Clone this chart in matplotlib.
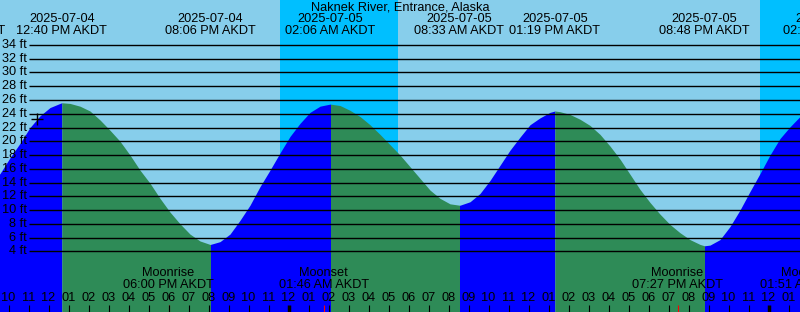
import matplotlib.pyplot as plt
from matplotlib.transforms import blended_transform_factory
from datetime import datetime

station = "Naknek River, Entrance, Alaska"
tz = "AKDT"

# tide height, one value every 30 min from the left edge
t_start = "2025-07-04 09:34:30"
step_min = 30
height_ft = [15.3, 17.6, 19.7, 22.0, 23.7, 24.9, 25.5, 25.5, 25.1, 24.4,
             23.1, 21.6, 20.0, 18.0, 15.8, 13.9, 11.7, 9.7, 8.0, 6.5,
             5.5, 5.0, 5.4, 6.5, 8.5, 10.7, 13.4, 15.8, 18.3, 20.7,
             22.6, 24.2, 25.1, 25.4, 25.2, 24.5, 23.6, 22.4, 21.0, 19.5,
             18.0, 16.3, 14.6, 12.9, 11.7, 10.9, 10.7, 11.2, 12.4, 14.3,
             16.5, 18.7, 20.6, 22.4, 23.4, 24.2, 24.3, 23.9, 23.2, 22.3,
             21.0, 19.3, 17.4, 15.2, 13.0, 11.1, 9.4, 7.9, 6.7, 5.7,
             5.0, 4.9, 5.7, 7.6, 10.0, 12.7, 15.3, 18.0, 20.4, 22.1, 23.6]

extreme_time = ["2025-07-04 07:35", "2025-07-04 12:40", "2025-07-04 20:06",
                "2025-07-05 02:06", "2025-07-05 08:33", "2025-07-05 13:19",
                "2025-07-05 20:48", "2025-07-06 02:58"]
extreme_ft = [10.9, 25.6, 5.0, 25.4, 10.7, 24.4, 4.8, 26.5]
extreme_kind = ["low", "high", "low", "high", "low", "high", "low", "high"]

moon_time = ["2025-07-04 18:00", "2025-07-05 01:46", "2025-07-05 19:27", "2025-07-06 01:51"]
moon_event = ["Moonrise", "Moonset", "Moonrise", "Moonset"]

sunset = ["2025-07-04 23:35", "2025-07-05 23:35"]
sunrise = ["2025-07-05 05:28", "2025-07-06 05:28"]

now_time = "2025-07-04 11:26"
now_ft = 23.3

levels_ft = list(range(4, 36, 2))

day0 = datetime(2025, 7, 4)


def hours(s):
    fmt = "%Y-%m-%d %H:%M:%S" if s.count(":") == 2 else "%Y-%m-%d %H:%M"
    return (datetime.strptime(s, fmt) - day0).total_seconds() / 3600


def clock(s):
    return datetime.strptime(s, "%Y-%m-%d %H:%M").strftime("%I:%M %p") + " " + tz


h0 = hours(t_start)
sample_h = [h0 + i * step_min / 60 for i in range(len(height_ft))]
ext_h = [hours(s) for s in extreme_time]

pts = sorted(list(zip(sample_h, height_ft)) + list(zip(ext_h, extreme_ft)))
th = [p[0] for p in pts]
hh = [p[1] for p in pts]

W, H = 800, 312
fig = plt.figure(figsize=(W / 100, H / 100), dpi=100)
ax = fig.add_axes([0, 0, 1, 1])
ax.axis("off")
# 20 px per hour, 6.877 px per foot
ax.set_xlim(h0, h0 + W / 20)
ax.set_ylim((278.8 - H) / 6.877, 278.8 / 6.877)
plt.rcParams["font.family"] = ["Liberation Sans", "DejaVu Sans"]
fs = 9.2

bx = blended_transform_factory(ax.transData, ax.transAxes)   # x data, y axes
by = blended_transform_factory(ax.transAxes, ax.transData)   # x axes, y data


def fy(ypx):
    return 1 - ypx / H


ax.set_facecolor("#87CEEB")
ax.axis("on")
for sp in ax.spines.values():
    sp.set_visible(False)
ax.set_xticks([])
ax.set_yticks([])
for s0, s1 in zip(sunset, sunrise):
    ax.axvspan(hours(s0), hours(s1), color="#00BFFF", lw=0, zorder=0)

# rising = blue, falling = green
for i in range(len(ext_h) - 1):
    a, b = ext_h[i], ext_h[i + 1]
    seg = [(t, v) for t, v in zip(th, hh) if a <= t <= b]
    col = "#0000FF" if extreme_kind[i + 1] == "high" else "#2E8B57"
    ax.fill_between([p[0] for p in seg], [p[1] for p in seg], -10,
                    color=col, lw=0, zorder=1)

x_line = h0 + 29 / 20
ax.hlines(levels_ft, x_line, h0 + W / 20, color="black", lw=1.0, zorder=2)
for lv in levels_ft:
    ax.text(27 / W, lv, f"{lv} ft", transform=by, ha="right", va="center",
            fontsize=fs, zorder=3)

ax.plot(hours(now_time), now_ft, marker="+", ms=9, mew=1, color="black", zorder=3)

ax.text(0.5, fy(7.5), station, transform=ax.transAxes, ha="center",
        va="center", fontsize=fs)
for s, t in zip(extreme_time, ext_h):
    ax.text(t, fy(19), s[:10], transform=bx, ha="center", va="center", fontsize=fs)
    ax.text(t, fy(31.5), clock(s), transform=bx, ha="center", va="center", fontsize=fs)

for s, ev in zip(moon_time, moon_event):
    t = hours(s)
    ax.text(t, fy(273.5), ev, transform=bx, ha="center", va="center", fontsize=fs)
    ax.text(t, fy(285), clock(s), transform=bx, ha="center", va="center", fontsize=fs)
    ax.vlines(t, fy(312), fy(305), transform=bx, color="red", lw=0.8, zorder=3)

for hr in range(int(h0) + 1, int(h0 + W / 20) + 1):
    lw = 2.5 if hr % 24 == 0 else 0.8
    ax.vlines(hr, fy(312), fy(305), transform=bx, color="black", lw=lw, zorder=3)
    ax.text(hr, fy(298), f"{(hr % 12) or 12:02d}", transform=bx, ha="center",
            va="center", fontsize=fs)

fig.savefig("out.png", dpi=100)
